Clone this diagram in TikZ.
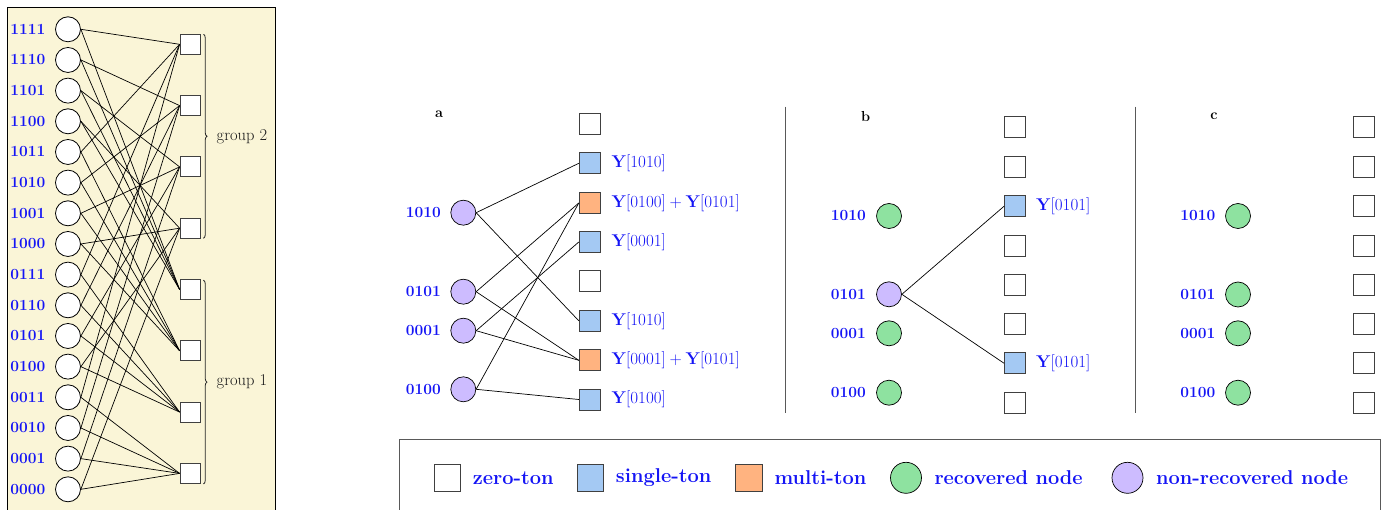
\documentclass[tikz,border=0pt]{standalone}
\usetikzlibrary{decorations.pathreplacing}
\definecolor{bgy}{RGB}{250,245,215}
\definecolor{sqblue}{RGB}{164,201,243}
\definecolor{sqorange}{RGB}{255,179,128}
\definecolor{ndgreen}{RGB}{142,226,160}
\definecolor{ndpurple}{RGB}{205,188,255}
\definecolor{txtblue}{RGB}{20,20,245}
\newcommand{\yy}[1]{\textbf{Y}[#1]}
\newcommand{\pls}{\hspace{0.222em}+\hspace{0.222em}}
\begin{document}
\begin{tikzpicture}[x=1pt,y=-1pt,
  lc/.style={circle,draw=black,line width=0.8pt,fill=white,minimum size=25pt,inner sep=0pt},
  lsq/.style={rectangle,draw=black!75,line width=0.8pt,fill=white,minimum size=20pt,inner sep=0pt},
  zsq/.style={rectangle,draw=black!75,line width=0.8pt,fill=white,minimum size=21pt,inner sep=0pt},
  ssq/.style={zsq,fill=sqblue},
  msq/.style={zsq,fill=sqorange},
  gnd/.style={circle,draw=black,line width=0.7pt,fill=ndgreen,minimum size=25pt,inner sep=0pt},
  pnd/.style={circle,draw=black,line width=0.7pt,fill=ndpurple,minimum size=25pt,inner sep=0pt},
  lbl/.style={anchor=east,inner sep=0pt,text=txtblue,font=\fontsize{15.5}{18}\selectfont\bfseries},
  ylbl/.style={anchor=west,inner sep=0pt,text=txtblue,font=\fontsize{17}{20}\selectfont},
  plbl/.style={inner sep=0pt,font=\fontsize{14.5}{17}\selectfont\bfseries},
  glbl/.style={anchor=west,inner sep=0pt,text=black!90,font=\fontsize{16.5}{19}\selectfont},
  edge/.style={draw=black,line width=0.7pt},
  sep/.style={draw=black!65,line width=1pt},
  lgtxt/.style={anchor=west,inner sep=0pt,text=txtblue,font=\fontsize{20}{24}\selectfont\bfseries}
]
\useasboundingbox (0,0) rectangle (1383,510);

% ---------- left panel ----------
\draw[fill=bgy,line width=0.9pt] (7,7) rectangle (275,525);
\foreach \v/\lab in {15/1111,14/1110,13/1101,12/1100,11/1011,10/1010,9/1001,8/1000,7/0111,6/0110,5/0101,4/0100,3/0011,2/0010,1/0001,0/0000}{
  \node[lc] (L\v) at (68,{29.3+30.667*(15-\v)}) {};
  \node[lbl] (LL\v) at (45.5,{29.3+30.667*(15-\v)}) {\lab};
}
\foreach \j in {0,...,7}{
  \node[lsq] (S\j) at (190,{44.3+61.3*\j}) {};
}
\foreach \v in {0,...,15}{
  \pgfmathtruncatemacro\ja{3-mod(\v,4)}
  \pgfmathtruncatemacro\jb{7-floor(\v/4)}
  \draw[edge] (L\v.east) -- (S\ja.west);
  \draw[edge] (L\v.east) -- (S\jb.west);
}
\coordinate (b2t) at (203.5,34.3);
\coordinate (b2b) at (203.5,238.3);
\coordinate (b1t) at (203.5,280.2);
\coordinate (b1b) at (203.5,484);
\draw[black!85,line width=0.8pt,decorate,decoration={brace,amplitude=3.5pt}] (b2t) -- (b2b);
\draw[black!85,line width=0.8pt,decorate,decoration={brace,amplitude=3.5pt}] (b1t) -- (b1b);
\node[glbl] (g2) at (216.5,136.3) {group 2};
\node[glbl] (g1) at (216.5,382) {group 1};

% ---------- panel a ----------
\node[plbl] (pa) at (439,114) {a};
\foreach \i/\yv in {1/124.3,2/163.3,3/203,4/242,5/281.3,6/320.8,7/360.3,8/399.5}{
  \coordinate (ap\i) at (589.7,\yv);
}
\node[zsq] (A1) at (ap1) {};
\node[ssq] (A2) at (ap2) {};
\node[msq] (A3) at (ap3) {};
\node[ssq] (A4) at (ap4) {};
\node[zsq] (A5) at (ap5) {};
\node[ssq] (A6) at (ap6) {};
\node[msq] (A7) at (ap7) {};
\node[ssq] (A8) at (ap8) {};
\node[pnd] (Aa) at (463.3,212.7) {};
\node[pnd] (Ab) at (463.3,291.7) {};
\node[pnd] (Ac) at (463.3,330.7) {};
\node[pnd] (Ad) at (463.3,389.3) {};
\node[lbl] (Aal) at (441,212.7) {1010};
\node[lbl] (Abl) at (441,291.7) {0101};
\node[lbl] (Acl) at (441,330.7) {0001};
\node[lbl] (Adl) at (441,389.3) {0100};
\draw[edge] (Aa.east) -- (A2.west);
\draw[edge] (Aa.east) -- (A6.west);
\draw[edge] (Ab.east) -- (A3.west);
\draw[edge] (Ab.east) -- (A7.west);
\draw[edge] (Ac.east) -- (A4.west);
\draw[edge] (Ac.east) -- (A7.west);
\draw[edge] (Ad.east) -- (A3.west);
\draw[edge] (Ad.east) -- (A8.west);
\node[ylbl] (Ay2) at (611.5,163.3) {\yy{1010}};
\node[ylbl] (Ay3) at (611.5,203) {\yy{0100}\pls\yy{0101}};
\node[ylbl] (Ay4) at (611.5,242) {\yy{0001}};
\node[ylbl] (Ay6) at (611.5,320.8) {\yy{1010}};
\node[ylbl] (Ay7) at (611.5,360.3) {\yy{0001}\pls\yy{0101}};
\node[ylbl] (Ay8) at (611.5,399.5) {\yy{0100}};

% ---------- panel b ----------
\coordinate (sbt) at (785.7,106.7);
\coordinate (sbb) at (785.7,413.3);
\draw[sep] (sbt) -- (sbb);
\node[plbl] (pb) at (865.7,117) {b};
\node[zsq] (B1) at (1015,127.2) {};
\node[zsq] (B2) at (1015,166.7) {};
\node[ssq] (B3) at (1015,206.2) {};
\node[zsq] (B4) at (1015,245.5) {};
\node[zsq] (B5) at (1015,284.7) {};
\node[zsq] (B6) at (1015,323.8) {};
\node[ssq] (B7) at (1015,363.3) {};
\node[zsq] (B8) at (1015,403) {};
\node[gnd] (Ba) at (889,216) {};
\node[pnd] (Bb) at (889,294.3) {};
\node[gnd] (Bc) at (889,333.3) {};
\node[gnd] (Bd) at (889,392.7) {};
\node[lbl] (Bal) at (866,216) {1010};
\node[lbl] (Bbl) at (866,294.3) {0101};
\node[lbl] (Bcl) at (866,333.3) {0001};
\node[lbl] (Bdl) at (866,392.7) {0100};
\draw[edge] (Bb.east) -- (B3.west);
\draw[edge] (Bb.east) -- (B7.west);
\node[ylbl] (By3) at (1036,206.2) {\yy{0101}};
\node[ylbl] (By7) at (1036,363.3) {\yy{0101}};

% ---------- panel c ----------
\coordinate (sct) at (1135,106.7);
\coordinate (scb) at (1135,412.7);
\draw[sep] (sct) -- (scb);
\node[plbl] (pc) at (1214,116.7) {c};
\foreach \i/\yv in {1/127.2,2/166.7,3/206.2,4/245.5,5/284.7,6/323.8,7/363.3,8/403}{
  \node[zsq] (C\i) at (1364,\yv) {};
}
\node[gnd] (Ca) at (1238,216) {};
\node[gnd] (Cb) at (1238,294.5) {};
\node[gnd] (Cc) at (1238,333.3) {};
\node[gnd] (Cd) at (1238,392.7) {};
\node[lbl] (Cal) at (1215.5,216) {1010};
\node[lbl] (Cbl) at (1215.5,294.5) {0101};
\node[lbl] (Ccl) at (1215.5,333.3) {0001};
\node[lbl] (Cdl) at (1215.5,392.7) {0100};

% ---------- legend ----------
\draw[draw=black!65,line width=1pt,fill=white] (399,439.5) rectangle (1380.3,530);
\node[zsq,minimum size=26.3pt] (lg1) at (447.5,478) {};
\node[lgtxt] (lt1) at (472.7,478) {zero-ton};
\node[ssq,minimum size=26.3pt] (lg2) at (590.7,478) {};
\node[lgtxt] (lt2) at (615.7,478) {single-ton};
\node[msq,minimum size=26.3pt] (lg3) at (749,478) {};
\node[lgtxt] (lt3) at (774.3,478) {multi-ton};
\node[gnd,minimum size=31pt] (lg4) at (906,477.8) {};
\node[lgtxt] (lt4) at (934.3,478) {recovered node};
\node[pnd,minimum size=31pt] (lg5) at (1127.5,477.8) {};
\node[lgtxt] (lt5) at (1156,478) {non-recovered node};
\end{tikzpicture}
\end{document}
